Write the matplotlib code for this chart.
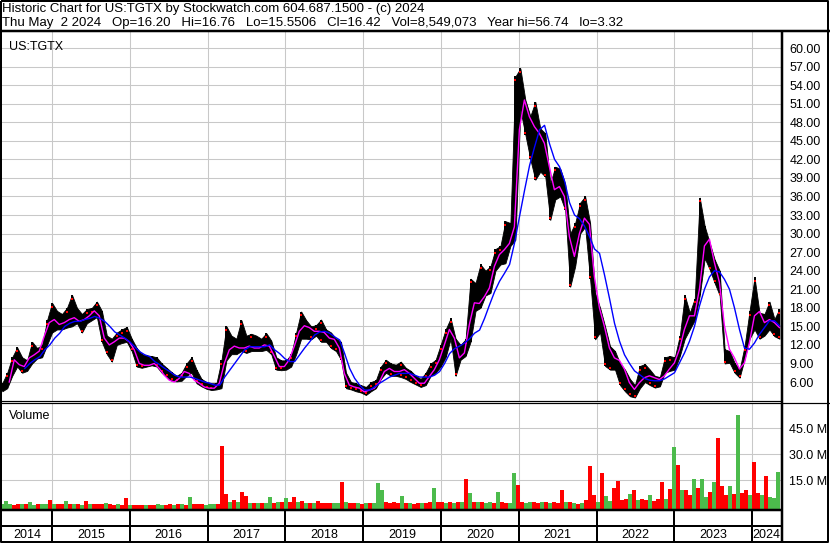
import numpy as np
import matplotlib
import matplotlib.pyplot as plt

matplotlib.use('Agg')
plt.rcParams['font.family'] = ['Liberation Sans', 'DejaVu Sans']

# price bars, low / high per ~3 week step (May 2014 - May 2024)
price_lo = [
    4.5, 5.0, 7.0, 8.5, 7.5, 7.8, 9.0, 9.8, 10.0, 12.0,
    14.0, 14.5, 14.5, 14.8, 15.0, 15.5, 14.0, 15.5, 16.0, 16.5,
    12.5, 10.5, 9.3, 12.0, 12.3, 12.5, 11.0, 8.5, 8.3, 8.5,
    8.7, 8.5, 7.5, 6.8, 6.2, 6.1, 6.2, 7.0, 7.5, 5.8,
    5.3, 4.9, 4.7, 4.8, 5.0, 9.5, 10.5, 10.5, 11.0, 10.7,
    11.0, 11.0, 11.0, 11.2, 10.5, 8.0, 7.9, 8.0, 8.5, 10.5,
    13.0, 13.0, 12.9, 13.5, 12.5, 12.5, 11.5, 11.0, 9.6, 5.0,
    4.8, 4.5, 4.3, 3.9, 4.5, 5.0, 6.5, 7.5, 7.0, 7.0,
    6.8, 6.5, 6.0, 5.6, 5.2, 5.5, 7.0, 7.5, 8.5, 10.0,
    13.0, 7.0, 9.6, 10.2, 12.5, 17.5, 18.0, 20.0, 20.4, 24.0,
    25.0, 25.2, 28.0, 29.0, 50.0, 46.0, 42.0, 38.7, 40.0, 39.2,
    32.2, 35.5, 36.0, 33.8, 21.4, 24.7, 30.0, 31.1, 22.6, 12.9,
    14.0, 8.6, 8.0, 8.0, 5.5, 4.5, 3.7, 3.5, 5.0, 6.0,
    5.5, 5.1, 5.3, 7.5, 7.8, 8.0, 10.2, 13.0, 14.5, 16.0,
    20.0, 26.0, 24.2, 22.0, 20.0, 9.0, 9.1, 7.5, 6.7, 9.7,
    13.0, 14.5, 13.0, 13.5, 14.5, 13.4, 13.0,
]
price_hi = [
    5.8, 7.5, 10.0, 11.6, 10.0, 9.5, 12.5, 11.5, 12.0, 16.0,
    18.8, 17.5, 17.0, 18.0, 20.1, 18.0, 17.0, 17.8, 18.0, 19.0,
    17.5, 13.5, 13.0, 14.0, 14.5, 14.9, 13.0, 11.5, 10.5, 10.3,
    10.2, 10.0, 9.0, 8.3, 7.6, 7.0, 7.5, 9.0, 10.0, 8.0,
    6.5, 6.0, 5.8, 5.8, 9.5, 15.0, 13.5, 13.0, 16.0, 13.5,
    13.8, 13.5, 13.0, 13.9, 12.7, 10.0, 9.5, 9.5, 10.5, 14.0,
    17.4, 16.0, 15.0, 15.2, 16.1, 14.5, 14.0, 13.0, 12.5, 7.5,
    6.0, 5.8, 5.5, 5.2, 6.0, 6.3, 8.5, 9.6, 9.0, 8.8,
    9.3, 8.3, 7.8, 7.0, 6.5, 7.5, 9.0, 9.6, 12.0, 14.5,
    16.3, 13.0, 12.0, 12.9, 22.7, 22.0, 25.0, 24.0, 24.7, 27.5,
    28.0, 32.0, 31.7, 55.4, 56.7, 51.6, 49.0, 51.3, 47.0, 46.2,
    38.1, 40.8, 40.5, 38.0, 30.0, 31.7, 35.0, 36.0, 31.7, 20.4,
    18.0, 15.0, 11.8, 11.0, 9.0, 8.0, 6.5, 5.5, 8.6, 8.9,
    8.0, 7.0, 6.8, 10.0, 10.2, 10.0, 13.5, 20.0, 17.2, 19.5,
    35.8, 31.2, 28.5, 25.8, 24.0, 11.3, 11.0, 9.1, 8.0, 11.8,
    17.5, 22.9, 17.2, 17.0, 19.0, 16.2, 17.8,
]

# short moving average (magenta)
ma_short = [
    6.0, 9.6, 8.8, 8.5, 9.9, 10.4, 11.0, 13.4, 15.6, 16.1,
    15.3, 15.6, 16.1, 16.4, 15.8, 16.1, 16.7, 17.5, 16.7, 13.1,
    12.0, 12.5, 13.1, 13.1, 12.5, 11.2, 9.0, 8.7, 8.7, 9.0,
    8.2, 7.1, 6.3, 6.0, 6.6, 7.7, 7.4, 6.3, 5.8, 5.2,
    5.0, 5.0, 5.8, 9.0, 11.2, 11.8, 11.5, 11.5, 11.8, 11.5,
    11.5, 12.0, 11.8, 10.2, 8.5, 8.5, 9.6, 11.8, 14.2, 15.1,
    14.8, 14.2, 14.2, 14.0, 13.1, 12.9, 11.5, 7.4, 5.5, 5.2,
    5.0, 4.4, 4.7, 5.0, 6.0, 7.7, 8.2, 7.7, 7.7, 8.0,
    7.4, 6.6, 5.8, 5.8, 6.9, 8.0, 9.6, 12.0, 14.5, 13.1,
    9.9, 10.7, 15.3, 18.8, 18.7, 19.8, 21.2, 24.7, 26.6, 27.4,
    28.4, 31.1, 46.8, 51.6, 48.9, 47.3, 46.2, 44.6, 40.8, 37.1,
    37.6, 36.0, 29.5, 26.3, 30.0, 32.5, 31.5, 23.0, 18.0, 15.0,
    11.5, 9.9, 9.5, 8.1, 5.9, 4.8, 5.9, 6.7, 7.0, 6.7,
    6.4, 7.0, 8.1, 9.1, 11.3, 14.5, 16.7, 16.7, 21.0, 28.0,
    29.1, 25.3, 22.1, 15.1, 11.3, 9.9, 8.1, 9.1, 12.4, 16.7,
    17.4, 15.6, 16.1, 15.6, 14.8,
]

# long moving average (blue)
ma_long = [
    8.2, 9.0, 9.6, 10.1, 11.2, 12.0, 13.1, 13.9, 15.0, 15.5,
    15.8, 15.8, 16.1, 16.3, 16.6, 16.3, 15.8, 15.0, 14.1, 13.6,
    13.1, 12.5, 11.7, 10.9, 10.4, 10.1, 9.3, 8.8, 8.2, 7.7,
    7.1, 6.8, 6.8, 6.8, 6.6, 6.3, 6.0, 5.8, 5.5, 5.5,
    6.8, 7.9, 9.0, 10.1, 11.2, 11.7, 11.7, 11.7, 11.7, 12.0,
    11.2, 10.6, 9.8, 9.3, 9.3, 10.4, 11.5, 12.5, 13.6, 14.1,
    14.2, 13.9, 13.3, 12.8, 10.6, 8.2, 6.6, 5.5, 4.7, 4.7,
    5.2, 5.8, 6.3, 6.8, 7.1, 7.4, 7.4, 7.4, 7.1, 6.8,
    6.8, 6.8, 7.1, 7.7, 9.0, 10.6, 11.4, 11.8, 12.3, 13.0,
    13.9, 14.4, 16.3, 18.5, 20.6, 22.3, 23.6, 25.0, 28.5, 32.8,
    37.0, 41.0, 44.0, 46.8, 47.5, 44.5, 42.0, 40.8, 38.5, 35.0,
    33.0, 32.4, 31.2, 29.5, 27.5, 26.8, 23.3, 19.5, 15.5, 12.6,
    10.4, 9.0, 7.8, 7.2, 6.6, 6.3, 6.2, 6.2, 6.5, 7.0,
    7.5, 9.1, 10.7, 12.6, 15.0, 18.3, 21.0, 23.0, 24.0, 23.8,
    22.6, 21.0, 18.0, 14.5, 11.5, 11.3, 12.3, 13.7, 14.8, 15.9,
    15.9, 15.1,
]

# volume in millions, with up (g) / down (r) colour
volume = [
    1.3, 2.9, 1.2, 1.0, 1.2, 1.1, 1.3, 2.5, 1.0, 1.2,
    1.1, 1.4, 3.5, 1.2, 1.6, 1.3, 3.3, 1.1, 1.3, 1.2,
    1.0, 3.3, 1.3, 1.5, 1.6, 1.5, 1.7, 1.2, 1.0, 1.1,
    1.0, 4.8, 0.9, 0.8, 1.0, 0.7, 0.9, 0.8, 0.9, 1.1,
    0.8, 1.0, 1.2, 0.9, 1.1, 1.2, 1.0, 5.4, 1.1, 1.2,
    1.5, 1.0, 1.2, 1.3, 1.4, 35.0, 7.1, 2.5, 3.9, 2.5,
    8.1, 6.2, 2.0, 1.8, 2.2, 1.9, 2.1, 5.2, 2.2, 2.6,
    2.8, 4.8, 2.5, 5.2, 2.4, 3.2, 2.0, 1.8, 2.2, 3.3,
    1.8, 2.0, 1.9, 1.7, 1.8, 13.9, 2.6, 2.0, 1.7, 1.9,
    1.6, 2.2, 2.0, 2.1, 13.3, 9.5, 2.5, 2.0, 2.4, 1.8,
    5.8, 2.0, 1.8, 1.6, 1.9, 1.7, 2.0, 2.3, 10.4, 2.6,
    2.4, 2.1, 2.6, 2.2, 2.8, 2.4, 15.8, 7.5, 2.6, 2.3,
    2.5, 2.1, 2.8, 2.2, 8.1, 2.4, 2.1, 2.0, 19.1, 12.4,
    2.5, 2.2, 2.7, 2.3, 2.0, 2.6, 2.4, 2.1, 2.3, 2.0,
    9.5, 2.3, 2.6, 1.9, 1.6, 2.0, 3.5, 23.2, 6.6, 2.8,
    19.1, 6.0, 3.2, 10.6, 14.9, 3.5, 4.3, 7.1, 9.2, 3.8,
    4.1, 3.5, 6.4, 3.2, 4.2, 13.9, 4.5, 10.0, 34.2, 24.1,
    9.7, 9.3, 6.5, 15.8, 10.9, 15.8, 5.5, 8.5, 14.3, 39.4,
    12.0, 6.5, 12.0, 7.0, 52.9, 7.5, 9.3, 6.8, 25.5, 8.0,
    6.6, 17.4, 5.5, 4.8, 19.7,
]
vol_dir = (
    "gggrrgrggrgg" "rgrrgrgrg" "rgrrrgrrgrr" "grrrgrrggrrgrgrgrrrggg"
    "rrrgrgrrgrgrggrgrgrrgrgrgrrrrg" "grgrrgrgrgggrrrrgrgrrgrrgrr"
    "grgrgrgrgrggrgrrg" "grrggrrgrgrrrgrgrgrr" "rgrggrrrrgrgrrgrrrgrgrgrrgrg"
    "grgrrrgrgrrgrrgrgggrrgrggrrr"
)
years = list(range(2014, 2025))
price_ticks = list(range(6, 61, 3))
volume_ticks = [15, 30, 45]

header1 = "Historic Chart for US:TGTX by Stockwatch.com 604.687.1500 - (c) 2024"
header2 = ("Thu May  2 2024   Op=16.20   Hi=16.76   Lo=15.5506   Cl=16.42   "
           "Vol=8,549,073   Year hi=56.74   lo=3.32")

W, H = 830, 543
t0, t1 = 2014.357, 2024.37

price_dates = np.linspace(2014.36, 2024.35, len(price_lo))
short_dates = np.linspace(2014.45, 2024.35, len(ma_short))
long_dates = np.linspace(2014.65, 2024.35, len(ma_long))
vol_dates = np.linspace(2014.36, 2024.33, len(volume))
vol_colors = ['#4cbb4c' if c == 'g' else '#ff0000' for c in vol_dir[:len(volume)]]
vol_colors += ['#ff0000'] * (len(volume) - len(vol_colors))


def box(left, top, right, bottom):
    return [left / W, 1 - bottom / H, (right - left) / W, (bottom - top) / H]


fig = plt.figure(figsize=(W / 100, H / 100), dpi=100)
fig.patch.set_facecolor('white')

grid_kw = dict(color='#c8c8c8', lw=0.75, zorder=0)
px = 0.72  # points per pixel

# price panel
ax = fig.add_axes(box(2, 32, 781, 401))
ax.set_xlim(t0, t1)
ax.set_ylim(2.93, 62.59)
for v in price_ticks:
    ax.axhline(v, **grid_kw)
for yr in years[1:]:
    ax.axvline(yr, **grid_kw)
ax.fill_between(price_dates, price_lo, price_hi, color='black', lw=0.6, zorder=2)
ax.vlines(price_dates, price_lo, price_hi, color='black', lw=1.4, zorder=2)
lo = np.array(price_lo)
hi = np.array(price_hi)
down = np.r_[False, lo[1:] < lo[:-1]]
up = np.r_[False, hi[1:] > hi[:-1]]
ax.scatter(price_dates[down], lo[down] + 0.3, s=2.5, marker='s', color='red', lw=0, zorder=3)
ax.scatter(price_dates[up], hi[up] - 0.6, s=2.5, marker='s', color='red', lw=0, zorder=3)
ax.plot(short_dates, ma_short, color='#ff00ff', lw=1.0, zorder=4)
ax.plot(long_dates, ma_long, color='#0000ff', lw=1.0, zorder=4)
ax.yaxis.tick_right()
ax.set_yticks(price_ticks)
ax.set_yticklabels([f"{v:.2f}" for v in price_ticks])
ax.tick_params(axis='y', length=0, pad=6, labelsize=9)
ax.set_xticks([])
for s in ax.spines.values():
    s.set_visible(False)
ax.text(0.009, 0.976, "US:TGTX", transform=ax.transAxes, fontsize=9, va='top')

# volume panel
axv = fig.add_axes(box(2, 403, 781, 509))
axv.set_xlim(t0, t1)
axv.set_ylim(-1.5, 59.7)
for v in volume_ticks:
    axv.axhline(v, **grid_kw)
for yr in years[1:]:
    axv.axvline(yr, **grid_kw)
axv.bar(vol_dates, np.array(volume) + 1.5, bottom=-1.5, width=3.6 / 77.8,
        color=vol_colors, lw=0, zorder=2)
axv.yaxis.tick_right()
axv.set_yticks(volume_ticks)
axv.set_yticklabels([f"{v:.1f} M" for v in volume_ticks])
axv.tick_params(axis='y', length=0, pad=6, labelsize=9)
axv.set_xticks([])
for s in axv.spines.values():
    s.set_visible(False)
axv.text(0.009, 0.93, "Volume", transform=axv.transAxes, fontsize=9, va='top')

# date strip
axd = fig.add_axes(box(2, 510, 781, 542))
axd.set_xlim(t0, t1)
axd.set_ylim(0, 1)
axd.axis('off')
for yr in years[1:]:
    axd.axvline(yr, color='black', lw=2 * px)
axd.axhline(0.5, color='black', lw=2 * px)
for yr in years:
    a, b = max(yr, t0), min(yr + 1, t1)
    axd.text((a + b) / 2, 0.22, str(yr), ha='center', va='center', fontsize=9)

# frame lines in pixel space
ov = fig.add_axes([0, 0, 1, 1], zorder=10)
ov.set_xlim(0, W)
ov.set_ylim(H, 0)
ov.axis('off')
ov.patch.set_alpha(0)
k = dict(color='black', solid_capstyle='butt')
ov.plot([1, W - 2, W - 2, 1, 1], [1, 1, H - 1.5, H - 1.5, 1], lw=2 * px, **k)
ov.plot([0, W], [31, 31], lw=2.5 * px, **k)
ov.plot([781.5, 781.5], [31, H], lw=2.5 * px, **k)
ov.plot([0, 781.5], [401, 401], lw=1.2 * px, **k)
ov.plot([0, W], [403, 403], lw=1.2 * px, **k)
ov.plot([0, 781.5], [510, 510], lw=2.5 * px, **k)

fig.text(2 / W, 1 - 12 / H, header1, fontsize=9.55, va='baseline')
fig.text(2 / W, 1 - 26 / H, header2, fontsize=9.55, va='baseline')

fig.savefig('out.png', dpi=100)
